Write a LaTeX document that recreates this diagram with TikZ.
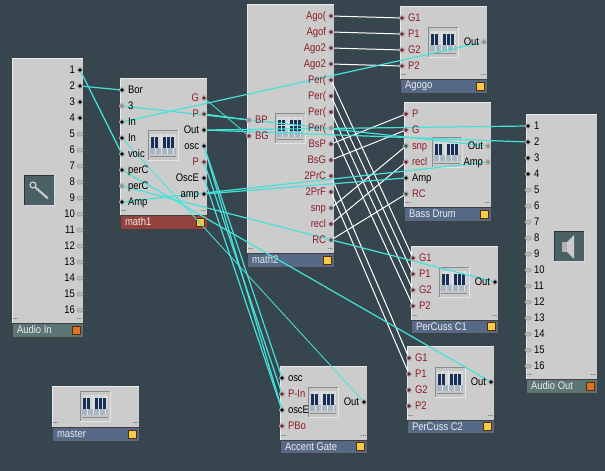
\documentclass[tikz,border=0pt]{standalone}
\usepackage{fontspec}
\setmainfont[FakeStretch=0.86]{Liberation Sans}
\pgfdeclarelayer{mods}
\pgfdeclarelayer{wires}
\pgfsetlayers{mods,wires,main}
\definecolor{bgc}{HTML}{37464E}
\definecolor{bodyc}{HTML}{CCCCCC}
\definecolor{slate}{HTML}{566A88}
\definecolor{teal1}{HTML}{5C7676}
\definecolor{rust}{HTML}{94423F}
\definecolor{ledy}{HTML}{F6CB48}
\definecolor{ledo}{HTML}{E2702A}
\definecolor{labred}{HTML}{8C1C2C}
\definecolor{wirec}{HTML}{45E2DA}
\definecolor{navy}{HTML}{16305A}
\definecolor{lowkey}{HTML}{A9B6C4}
\tikzset{
  x=1pt,y=-1pt,
  every node/.style={inner sep=0pt,outer sep=0pt},
  modbody/.style={fill=bodyc,anchor=north west},
  modtitle/.style={draw=black!75,line width=.8pt,anchor=north west},
  titletext/.style={text=white!92!black,anchor=west,font=\fontsize{11}{12}\selectfont},
  ledbox/.style={draw=black!65!orange,line width=1pt,minimum size=8pt},
  dots/.style={font=\fontsize{7}{7}\selectfont,text=black},
  lab/.style={font=\fontsize{11}{12}\selectfont,text height=7.5pt,text depth=0pt},
  labr/.style={lab,text=labred},
  labb/.style={lab,text=black},
  portbase/.style={circle,minimum size=4.6pt,draw=black!30,line width=1.1pt},
  portr/.style={portbase,fill=labred!90!black},
  portb/.style={portbase,fill=black},
  portt/.style={portbase,fill=teal1!70!black},
  portg/.style={portbase,fill=black!45},
  portn/.style={rectangle,rounded corners=1.5pt,minimum width=6pt,minimum height=4pt,fill=black!27,draw=black!42,line width=.5pt},
  wire/.style={draw=wirec,line width=1.2pt},
  wirethin/.style={draw=wirec,line width=.8pt},
  whitewire/.style={draw=white,line width=1pt},
}
% name x1 y1 x2 y2 y3 title fill led
\newcommand{\Module}[9]{%
  \begin{pgfonlayer}{mods}
  \pgfmathsetmacro{\mw}{#4-#2}\pgfmathsetmacro{\mh}{#5-#3}\pgfmathsetmacro{\th}{#6-#5}
  \node[modbody,minimum width=\mw pt,minimum height=\mh pt] (#1) at (#2,#3) {};
  \draw[white!92!black,line width=.8pt] (#2+.4,#5) -- (#2+.4,#3+.4) -- (#4,#3+.4);
  \node[modtitle,fill=#8,minimum width=\mw pt,minimum height=\th pt] (#1t) at (#2,#5) {};
  \node[titletext] (#1n) at (#2+5,{(#5+#6)/2}) {#7};
  \node[ledbox,fill=#9] (#1led) at (#4-6.5,#6-6.7) {};
  \node[dots,anchor=west] (#1d1) at (#2+1,#5-3.5) {...};
  \node[dots,anchor=east] (#1d2) at (#4-1,#5-3.5) {...};
  \end{pgfonlayer}}
% name x y portstyle labstyle text
\newcommand{\PL}[6]{\node[#4] (#1) at (#2,#3) {};\node[#5,anchor=west] (#1l) at (#2+6,#3) {#6};}
\newcommand{\PR}[6]{\node[#4] (#1) at (#2,#3) {};\node[#5,anchor=east] (#1l) at (#2-5,#3) {#6};}
% x0 y0
\newcommand{\Piano}[2]{%
  \begin{pgfonlayer}{mods}
  \begin{scope}[shift={(#1,#2)}]
    \fill[black!22] (0,0) rectangle (30,30);
    \draw[black!45,line width=.9pt] (0,30) -- (0,0) -- (30,0);
    \draw[white!90!black,line width=.9pt] (30,0) -- (30,30) -- (0,30);
    \fill[black!16] (2,4) rectangle (28,18);
    \fill[lowkey] (2,18) rectangle (28,24);
    \foreach \k in {7,13,19,25} {\draw[black!10,line width=.5pt] (\k,4) -- (\k,24);}
    \foreach \k in {3,7,15,19,23} {\fill[navy] (\k,7) rectangle (\k+3,18);}
    \draw[black!45,line width=.5pt] (2,26) -- (28,26);
  \end{scope}
  \end{pgfonlayer}}
\begin{document}
\begin{tikzpicture}
\begin{pgfonlayer}{mods}
\path[use as bounding box,fill=bgc] (0,0) rectangle (605,471);
\end{pgfonlayer}

\Module{audioin}{12}{58}{83}{323}{337}{Audio In}{teal1}{ledo}
\Module{mathone}{120}{78}{207}{215}{229}{math1}{rust}{ledy}
\Module{mathtwo}{247}{4}{334}{253}{267}{math2}{slate}{ledy}
\Module{agogo}{400}{6}{487}{79}{93}{Agogo}{slate}{ledy}
\Module{bass}{404}{102}{491}{207}{221}{Bass Drum}{slate}{ledy}
\Module{cone}{411}{246}{498}{320}{333}{PerCuss C1}{slate}{ledy}
\Module{ctwo}{407}{346}{494}{420}{433}{PerCuss C2}{slate}{ledy}
\Module{accent}{280}{366}{367}{440}{453}{Accent Gate}{slate}{ledy}
\Module{master}{52}{386}{139}{427}{441}{master}{slate}{ledy}
\Module{audioout}{526}{114}{597}{379}{393}{Audio Out}{teal1}{ledo}

\Piano{148}{130}
\Piano{275}{113}
\Piano{428}{27}
\Piano{432}{137}
\Piano{439}{267}
\Piano{435}{367}
\Piano{308}{387}
\Piano{80}{391}

\begin{pgfonlayer}{mods}
  % grid lines of the math2 icon
  \draw[black!15,line width=.6pt] (277,125) -- (303,125);
  % microphone icon
  \fill[teal1!55!bgc] (24,175) rectangle (54,205);
  \draw[white!85!black,line width=.8pt] (54,175) -- (54,205) -- (24,205);
  \draw[black!55!teal1,line width=.8pt] (24,205) -- (24,175) -- (54,175);
  \draw[black!22,line width=2.2pt,line cap=round] (36,188) -- (47.5,198);
  \draw[black!15,line width=1.1pt] (33,185) circle (3);
  % speaker icon
  \fill[teal1!55!bgc] (554,231) rectangle (584,261);
  \draw[white!85!black,line width=.8pt] (584,231) -- (584,261) -- (554,261);
  \draw[black!55!teal1,line width=.8pt] (554,261) -- (554,231) -- (584,231);
  \fill[black!30] (562,242) rectangle (567,252);
  \fill[black!20] (567,242) -- (574,235) -- (574,259) -- (567,252) -- cycle;
\end{pgfonlayer}

% Audio In / Audio Out ports
\foreach \n [evaluate=\n as \yy using {70+(\n-1)*16}] in {1,2,3,4} {\PR{ai\n}{80}{\yy}{portb}{labb}{\n}}
\foreach \n [evaluate=\n as \yy using {70+(\n-1)*16}] in {5,6,...,16} {\PR{ai\n}{80}{\yy}{portn}{labb}{\n}}
\foreach \n [evaluate=\n as \yy using {126+(\n-1)*16}] in {1,2,3,4} {\PL{ao\n}{528}{\yy}{portb}{labb}{\n}}
\foreach \n [evaluate=\n as \yy using {126+(\n-1)*16}] in {5,6,...,16} {\PL{ao\n}{528}{\yy}{portn}{labb}{\n}}

% math1
\PL{mBor}{122}{90}{portb}{labb}{Bor}
\PL{mThree}{122}{106}{portg}{labb}{3}
\PL{mInA}{122}{122}{portb}{labb}{In}
\PL{mInB}{122}{138}{portb}{labb}{In}
\PL{mVoic}{122}{154}{portb}{labb}{voic}
\PL{mPerA}{122}{170}{portb}{labb}{perC}
\PL{mPerB}{122}{186}{portg}{labb}{perC}
\PL{mAmp}{122}{202}{portb}{labb}{Amp}
\PR{mG}{204}{98}{portr}{labr}{G}
\PR{mP}{204}{114}{portr}{labr}{P}
\PR{mOut}{204}{130}{portb}{labb}{Out}
\PR{mOsc}{204}{146}{portb}{labb}{osc}
\PR{mPb}{204}{162}{portr}{labr}{P}
\PR{mOscE}{204}{178}{portb}{labb}{OscE}
\PR{mamp}{204}{194}{portb}{labb}{amp}

% math2
\PL{nBP}{249}{120}{portg}{labr}{BP}
\PL{nBG}{249}{136}{portr}{labr}{BG}
\PR{nAa}{331}{16}{portr}{labr}{Ago(}
\PR{nAb}{331}{32}{portr}{labr}{Agof}
\PR{nAc}{331}{48}{portr}{labr}{Ago2}
\PR{nAd}{331}{64}{portr}{labr}{Ago2}
\PR{nPa}{331}{80}{portr}{labr}{Per(}
\PR{nPb}{331}{96}{portr}{labr}{Per(}
\PR{nPc}{331}{112}{portr}{labr}{Per(}
\PR{nPd}{331}{128}{portg}{labr}{Per(}
\PR{nBsP}{331}{144}{portr}{labr}{BsP}
\PR{nBsG}{331}{160}{portr}{labr}{BsG}
\PR{nPrC}{331}{176}{portr}{labr}{2PrC}
\PR{nPrF}{331}{192}{portr}{labr}{2PrF}
\PR{nSnp}{331}{208}{portt}{labr}{snp}
\PR{nRecl}{331}{224}{portr}{labr}{recl}
\PR{nRC}{331}{240}{portt}{labr}{RC}

% Agogo
\PL{aG1}{402}{18}{portr}{labr}{G1}
\PL{aP1}{402}{34}{portr}{labr}{P1}
\PL{aG2}{402}{50}{portr}{labr}{G2}
\PL{aP2}{402}{66}{portr}{labr}{P2}
\PR{aOut}{484}{42}{portg}{labb}{Out}

% Bass Drum
\PL{bP}{406}{114}{portr}{labr}{P}
\PL{bG}{406}{130}{portr}{labr}{G}
\PL{bSnp}{406}{146}{portt}{labr}{snp}
\PL{bRecl}{406}{162}{portr}{labr}{recl}
\PL{bAmp}{406}{178}{portb}{labb}{Amp}
\PL{bRC}{406}{194}{portt}{labr}{RC}
\PR{bOut}{488}{146}{portg}{labb}{Out}
\PR{bAmpO}{488}{162}{portg}{labb}{Amp}

% PerCuss C1
\PL{cG1}{413}{258}{portr}{labr}{G1}
\PL{cP1}{413}{274}{portr}{labr}{P1}
\PL{cG2}{413}{290}{portr}{labr}{G2}
\PL{cP2}{413}{306}{portr}{labr}{P2}
\PR{cOut}{495}{282}{portb}{labb}{Out}

% PerCuss C2
\PL{dG1}{409}{358}{portr}{labr}{G1}
\PL{dP1}{409}{374}{portr}{labr}{P1}
\PL{dG2}{409}{390}{portr}{labr}{G2}
\PL{dP2}{409}{406}{portr}{labr}{P2}
\PR{dOut}{491}{382}{portb}{labb}{Out}

% Accent Gate
\PL{gOsc}{282}{378}{portb}{labb}{osc}
\PL{gPIn}{282}{394}{portr}{labr}{P-In}
\PL{gOscE}{282}{410}{portb}{labb}{oscE}
\PL{gPBo}{282}{426}{portr}{labr}{PBo}
\PR{gOut}{364}{402}{portb}{labb}{Out}

\begin{pgfonlayer}{wires}
  % white wires
  \draw[whitewire] (nAa.center) -- (aG1.center);
  \draw[whitewire] (nAb.center) -- (aP1.center);
  \draw[whitewire] (nAc.center) -- (aG2.center);
  \draw[whitewire] (nAd.center) -- (aP2.center);
  \draw[whitewire] (nPa.center) -- (cG1.center);
  \draw[whitewire] (nPb.center) -- (cP1.center);
  \draw[whitewire] (nPc.center) -- (cG2.center);
  \draw[whitewire] (nPd.center) -- (cP2.center);
  \draw[whitewire] (nBsP.center) -- (bP.center);
  \draw[whitewire] (nBsG.center) -- (bG.center);
  \draw[whitewire] (nPrC.center) -- (dG1.center);
  \draw[whitewire] (nPrF.center) -- (dP1.center);
  \draw[whitewire] (nSnp.center) -- (bSnp.center);
  \draw[whitewire] (nRecl.center) -- (bRecl.center);
  \draw[whitewire] (nRC.center) -- (bRC.center);
  % cyan wires
  \draw[wire] (ai1.center) -- (mVoic.center);
  \draw[wire] (ai2.center) -- (mBor.center);
  \draw[wire] (mThree.center) -- (bOut.center);
  \draw[wire] (mInA.center) -- (aOut.center);
  \draw[wirethin] (mInB.center) -- (gOut.center);
  \draw[wire] (mPerA.center) -- (dOut.center);
  \draw[wire] (mPerB.center) -- (cOut.center);
  \draw[wire] (mAmp.center) -- (bAmpO.center);
  \draw[wirethin] (mG.center) -- (nBG.center);
  \draw[wire] (mP.center) -- (nBP.center);
  \draw[wire] (mOut.center) -- (ao1.center);
  \draw[wire] (mOut.center) -- (ao2.center);
  \draw[wire] (mamp.center) -- (bAmp.center);
  \draw[wire] (mOsc.center) -- (gOsc.center);
  \draw[wire] (mOsc.center) -- (gOscE.center);
  \draw[wire] (mPb.center) -- (gPIn.center);
  \draw[wire] (mOscE.center) -- (gOscE.center);
\end{pgfonlayer}
\end{tikzpicture}
\end{document}
